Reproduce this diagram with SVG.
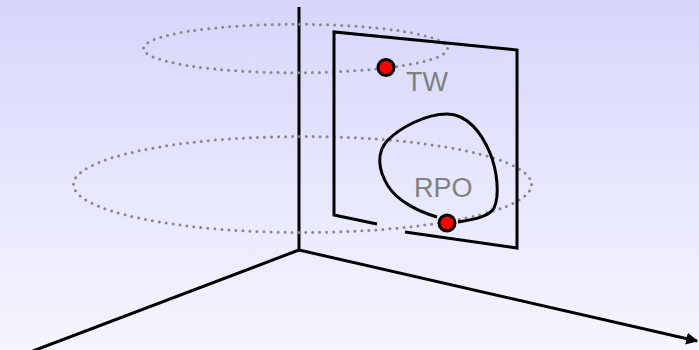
<svg xmlns="http://www.w3.org/2000/svg" width="699" height="350" viewBox="0 0 699 350">
  <defs>
    <linearGradient id="bg" x1="0" y1="0" x2="0" y2="1">
      <stop offset="0" stop-color="#d6d6fb"/>
      <stop offset="1" stop-color="#f5f5ff"/>
    </linearGradient>
    <marker id="arrow" viewBox="0 0 10 10" refX="9" refY="5" markerWidth="4" markerHeight="4" orient="auto" markerUnits="strokeWidth">
      <path d="M0,0 L10,5 L0,10 Z" fill="#000"/>
    </marker>
    <style>
      .axis { fill: none; stroke: #000; stroke-width: 3; }
      .orbit { fill: none; stroke: #888; stroke-width: 3; stroke-linecap: round; stroke-dasharray: 0 7; }
      .section { fill: none; stroke: #000; stroke-width: 3; stroke-linejoin: miter; }
      .loop { fill: none; stroke: #000; stroke-width: 3; }
      .pt { fill: #f00; stroke: #000; stroke-width: 3; }
      .lbl { font-family: "Liberation Sans", Arial, sans-serif; font-size: 27px; fill: #808080; }
    </style>
  </defs>
  <rect x="0" y="0" width="699" height="350" fill="url(#bg)"/>

  <g id="connectors">
    <line class="axis" x1="299" y1="7" x2="299" y2="250"/>
    <line class="axis" x1="299" y1="250" x2="33" y2="351"/>
    <line class="axis" x1="299" y1="250" x2="697" y2="341" marker-end="url(#arrow)"/>
  </g>

  <g id="orbit-upper">
    <ellipse class="orbit" cx="295.5" cy="48.5" rx="152" ry="24.2"/>
  </g>
  <g id="orbit-lower">
    <ellipse class="orbit" cx="302.5" cy="184.5" rx="229" ry="48"/>
  </g>

  <g id="section">
    <polyline class="section" points="377,224 334,215 334,32 517,50 517,248 405,232"/>
  </g>

  <g id="loop">
    <path class="loop" d="M437,217 C420,212 398,202 388,186 C378,170 376,152 388,140 C400,128 425,114 447,114 C468,114 482,134 490,153 C497,170 500,195 494,208 C488,218 470,220 458,222"/>
  </g>

  <g id="tw">
    <circle class="pt" cx="386" cy="67.5" r="8"/>
    <text class="lbl" x="406" y="91">TW</text>
  </g>

  <g id="rpo">
    <circle class="pt" cx="447" cy="223" r="8"/>
    <text class="lbl" x="414" y="197">RPO</text>
  </g>
</svg>
